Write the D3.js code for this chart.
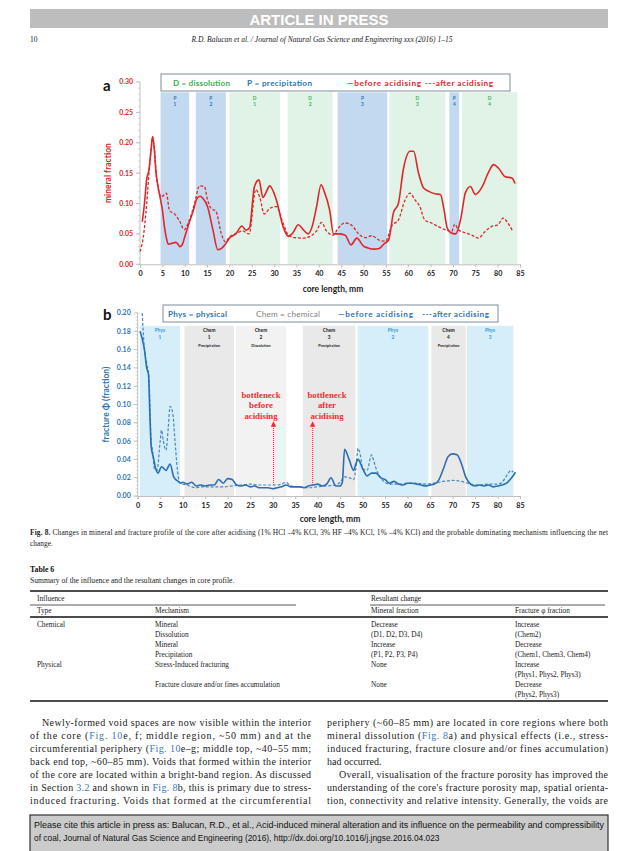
<!DOCTYPE html>
<html><head><meta charset="utf-8">
<script src="https://cdn.jsdelivr.net/npm/d3@7"></script>
<style>body{margin:0;background:#fff;}svg{display:block;}</style>
</head><body>
<svg id="page" width="638" height="851"></svg>
<script>
// ---------- DATA ----------
const mmTicks = [0,5,10,15,20,25,30,35,40,45,50,55,60,65,70,75,80,85];
const aYTicks = [0,0.05,0.10,0.15,0.20,0.25,0.30];
const bYTicks = [0,0.02,0.04,0.06,0.08,0.10,0.12,0.14,0.16,0.18,0.20];

// Fig 8a mineral fraction
const aBeforeX = [0.5,1,1.5,2,2.5,2.8,3.2,3.6,4,4.5,5,5.5,6,6.3,7,8,8.5,8.9,9.5,10,11.2,12,12.7,13.5,14,15.1,16.3,17.4,18.5,19,20,21.4,22.8,23.7,24.5,25.6,26.6,27.5,28.3,29,30.5,32,33.2,34.2,35.4,36.5,37.6,38.5,39.5,40.5,41.2,42.4,43.3,44.4,45.9,47.2,48.5,50,51,52.3,53.5,54.5,55.6,56.7,57.8,58.9,60.4,61.2,62.3,63.4,64.6,66,67.2,68,68.7,69.5,70.6,71.7,72.8,73.9,75,76.5,78,79.1,80.2,81.7,83.2,83.9];
const aBeforeY = [0.07,0.10,0.14,0.155,0.19,0.21,0.19,0.15,0.13,0.11,0.09,0.06,0.04,0.033,0.034,0.036,0.033,0.029,0.033,0.045,0.073,0.09,0.108,0.112,0.109,0.095,0.057,0.024,0.028,0.032,0.043,0.05,0.063,0.056,0.06,0.128,0.139,0.11,0.12,0.129,0.106,0.062,0.046,0.052,0.065,0.057,0.05,0.062,0.095,0.131,0.12,0.09,0.05,0.05,0.048,0.032,0.043,0.03,0.027,0.025,0.026,0.033,0.04,0.085,0.10,0.156,0.186,0.186,0.15,0.126,0.12,0.116,0.115,0.09,0.06,0.052,0.05,0.073,0.118,0.128,0.115,0.127,0.152,0.164,0.158,0.144,0.142,0.133];

const aAfterX = [0,0.7,1.5,2,2.5,2.8,3.2,3.6,4.2,4.8,5.9,6.6,7.7,8.8,9.9,11.0,12.2,13.3,14.4,15.1,15.9,17.0,18.2,19.1,20,21.4,22.9,24.4,25.9,26.8,27.8,29,30.5,32,33.2,34.6,36.5,38,39.5,40.6,41.7,43.2,44.4,45.9,47.4,48.9,50.4,51.9,53.4,54.9,56.4,57.8,59.3,60.4,61.5,62.6,63.7,65.2,66.7,68.2,69.7,70.4,71.2,72.7,74.2,75.7,77.2,78.6,80.1,81.2,82.3,83.4];
const aAfterY = [0.021,0.043,0.10,0.15,0.19,0.21,0.19,0.15,0.12,0.111,0.117,0.088,0.083,0.072,0.057,0.072,0.10,0.129,0.128,0.106,0.092,0.087,0.05,0.037,0.045,0.05,0.055,0.05,0.123,0.11,0.083,0.092,0.095,0.068,0.048,0.044,0.043,0.046,0.055,0.069,0.055,0.048,0.06,0.068,0.064,0.05,0.044,0.047,0.04,0.038,0.064,0.073,0.106,0.117,0.106,0.095,0.073,0.068,0.062,0.057,0.054,0.066,0.057,0.052,0.048,0.043,0.054,0.062,0.065,0.076,0.068,0.054];

const aBandType  = ["P","P","D","D","P","D","P","D"];
const aBandNum   = ["1","2","1","2","3","3","4","4"];
const aBandStart = [4.6,12.5,20.0,33.0,44.2,55.8,69.2,72.0];
const aBandEnd   = [11.0,19.2,31.3,43.1,55.3,68.3,71.4,84.4];

// Fig 8b fracture fraction
const bBeforeX = [0.5,1,1.5,2,2.4,2.7,3,3.5,4,4.5,5.3,6.3,7.2,8,9,9.6,10,11,12,13,14,15,16,17,18,19,20,21,22,23,24,25,26,27,28,29,30,31,32,33,34,35,36,37,38,39,40,41,42,43,44,45,45.5,46,47,48,48.5,49,50,51,52,53,54,55,56,57,58,59,60,61,62,63,64,65,66,67,68,69,70,71,72,73,74,75,76,77,78,79,80,81,82,83,84];
const bBeforeY = [0.18,0.172,0.16,0.14,0.133,0.09,0.054,0.042,0.03,0.025,0.032,0.028,0.035,0.021,0.016,0.014,0.015,0.013,0.015,0.011,0.012,0.011,0.012,0.012,0.018,0.014,0.019,0.018,0.012,0.011,0.012,0.010,0.011,0.009,0.009,0.009,0.008,0.009,0.010,0.012,0.010,0.010,0.010,0.009,0.011,0.012,0.013,0.011,0.013,0.020,0.011,0.011,0.015,0.051,0.040,0.028,0.035,0.040,0.030,0.022,0.025,0.025,0.020,0.018,0.014,0.016,0.013,0.012,0.014,0.014,0.013,0.012,0.011,0.012,0.013,0.018,0.030,0.043,0.046,0.045,0.035,0.020,0.013,0.011,0.012,0.011,0.012,0.010,0.011,0.012,0.014,0.019,0.026];

const bAfterX = [1.0,1.5,2,2.5,3,3.3,3.7,4.3,5,5.3,5.7,6.3,6.8,7.2,7.8,8.3,8.8,9.3,10,11,12,13,14,15,17,19,21,23,25,27,29,31,32,33,34,36,38,40,42,44,45,46,47,48,48.5,49,49.5,50,51,52,52.5,53,54,56,58,60,62,64,66,68,70,72,74,76,78,80,81,82,83,83.5];
const bAfterY = [0.20,0.16,0.145,0.13,0.06,0.05,0.03,0.028,0.06,0.072,0.06,0.05,0.075,0.098,0.09,0.06,0.03,0.015,0.013,0.012,0.010,0.009,0.010,0.010,0.010,0.010,0.011,0.012,0.013,0.012,0.012,0.012,0.013,0.015,0.011,0.010,0.009,0.010,0.011,0.012,0.015,0.021,0.020,0.018,0.030,0.052,0.045,0.030,0.028,0.045,0.038,0.030,0.020,0.013,0.013,0.014,0.014,0.013,0.014,0.016,0.017,0.016,0.013,0.012,0.013,0.013,0.015,0.022,0.028,0.026];

const bBandType  = ["Phys","Chem","Chem","Chem","Phys","Chem","Phys"];
const bBandNum   = ["1","1","2","3","2","4","3"];
const bBandSub   = ["","Precipitation","Dissolution","Precipitation","","Precipitation",""];
const bBandStart = [0.5,10.4,21.8,36.7,48.9,65.3,73.2];
const bBandEnd   = [9.4,21.4,33.0,48.4,64.6,72.9,83.5];
const bArrowMM   = [30.2,38.9];
const bArrowText = [["bottleneck","before","acidising"],["bottleneck","after","acidising"]];

// ---------- DRAW ----------
const svg = d3.select("#page");
const SANS = "Lato, 'Open Sans', sans-serif";
const SERIF = "'Liberation Serif', 'DejaVu Serif', serif";
const RED = "#e0262a", BLUE = "#2e75b6";
const L = 30, R = 608;

// header
svg.append("rect").attr("x",L).attr("y",9).attr("width",R-L).attr("height",19).attr("fill","#bdbdbd");
svg.append("text").attr("x",319).attr("y",24.5).attr("text-anchor","middle").attr("fill","#fff")
  .attr("font-family","'Liberation Sans', Arial, sans-serif").attr("font-weight","bold").attr("font-size",15).text("ARTICLE IN PRESS");
svg.append("text").attr("x",L).attr("y",42).attr("font-family",SERIF).attr("font-size",7.5).attr("fill","#222").text("10");
svg.append("text").attr("x",322).attr("y",42).attr("text-anchor","middle").attr("font-family",SERIF).attr("font-style","italic").attr("font-size",7.5).attr("fill","#222")
  .text("R.D. Balucan et al. / Journal of Natural Gas Science and Engineering xxx (2016) 1–15");

function axes(g, x, y, yTicks, yMinorStep, yColor, fmt, axisY) {
  const x0 = x.range()[0];
  g.append("line").attr("x1",x0).attr("x2",x0).attr("y1",y.range()[1]).attr("y2",y.range()[0]).attr("stroke","#bfbfbf");
  const minor = d3.range(0, yTicks[yTicks.length-1]+1e-9, yMinorStep);
  g.selectAll(null).data(minor).join("line").attr("x1",x0-2).attr("x2",x0).attr("y1",d=>y(d)).attr("y2",d=>y(d)).attr("stroke","#bfbfbf").attr("stroke-width",0.6);
  g.selectAll(null).data(yTicks).join("line").attr("x1",x0-4).attr("x2",x0).attr("y1",d=>y(d)).attr("y2",d=>y(d)).attr("stroke","#bfbfbf");
  g.selectAll(null).data(yTicks).join("text").attr("x",x0-7).attr("y",d=>y(d)+2.4).attr("text-anchor","end")
    .attr("font-family",SANS).attr("font-weight","bold").attr("font-size",7).attr("fill",yColor).text(d=>d3.format(fmt)(d));
  const xa = d3.axisBottom(x).tickValues(mmTicks).tickSize(3).tickPadding(4);
  const gx = g.append("g").attr("transform",`translate(0,${axisY})`).call(xa);
  gx.select(".domain").attr("stroke","#bfbfbf");
  gx.selectAll(".tick line").attr("stroke","#bfbfbf");
  gx.selectAll(".tick text").attr("font-family",SANS).attr("font-weight","bold").attr("font-size",7.2).attr("fill","#222");
}
function legendText(g, xx, yy, txt, col, w, len){
  const t = g.append("text").attr("x",xx).attr("y",yy).attr("font-family",SANS).attr("font-weight",w).attr("font-size",8.2).attr("fill",col).text(txt);
  if(len) t.attr("textLength",len).attr("lengthAdjust","spacing");
}

// ===== chart a =====
{
  const x = d3.scaleLinear().domain([0,85]).range([140,520]);
  const y = d3.scaleLinear().domain([0,0.30]).range([264.3,82]);
  const g = svg.append("g");
  const bandTop = y(0.283);
  aBandType.forEach((t,i)=>{
    g.append("rect").attr("x",x(aBandStart[i])).attr("y",bandTop).attr("width",x(aBandEnd[i])-x(aBandStart[i])).attr("height",y(0)-bandTop)
      .attr("fill", t==="P" ? "#c3d9ef" : "#e0f3e6");
    const c = t==="P" ? BLUE : "#3cae55";
    const cx = (x(aBandStart[i])+x(aBandEnd[i]))/2;
    g.append("text").attr("x",cx).attr("y",bandTop+8).attr("text-anchor","middle").attr("font-family",SANS).attr("font-weight","bold").attr("font-size",4.8).attr("fill",c).text(t);
    g.append("text").attr("x",cx).attr("y",bandTop+14).attr("text-anchor","middle").attr("font-family",SANS).attr("font-weight","bold").attr("font-size",4.8).attr("fill",c).text(aBandNum[i]);
  });
  axes(g, x, y, aYTicks, 0.01, RED, ".2f", 264.3);
  const line = d3.line().x(d=>x(d[0])).y(d=>y(d[1])).curve(d3.curveMonotoneX);
  g.append("path").attr("d", line(d3.zip(aAfterX,aAfterY))).attr("fill","none").attr("stroke",RED).attr("stroke-width",1.3).attr("stroke-dasharray","3,1.8");
  g.append("path").attr("d", line(d3.zip(aBeforeX,aBeforeY))).attr("fill","none").attr("stroke",RED).attr("stroke-width",1.6);
  g.append("rect").attr("x",161).attr("y",74).attr("width",349).attr("height",17).attr("fill","#fff").attr("stroke","#7f8c9a").attr("stroke-width",1);
  legendText(g,173,85.5,"D = dissolution","#3cae55","bold",57);
  legendText(g,247,85.5,"P = precipitation",BLUE,"bold",65);
  legendText(g,347,85.5,"—before acidising",RED,"bold",74);
  legendText(g,425,85.5,"---after acidising",RED,"bold",68);
  g.append("text").attr("x",103).attr("y",91).attr("font-family",SANS).attr("font-weight","bold").attr("font-size",15).attr("fill","#111").text("a");
  g.append("text").attr("transform",`translate(111,${y(0.15)}) rotate(-90)`).attr("text-anchor","middle").attr("font-family",SANS).attr("font-weight","bold").attr("font-size",8.5).attr("fill",RED).text("mineral fraction");
  g.append("text").attr("x",333).attr("y",292).attr("text-anchor","middle").attr("font-family",SANS).attr("font-weight","bold").attr("font-size",8.5).attr("fill","#222").text("core length, mm");
}

// ===== chart b =====
{
  const x = d3.scaleLinear().domain([0,85]).range([137.7,520]);
  const y = d3.scaleLinear().domain([0,0.20]).range([496,313]);
  const g = svg.append("g");
  const bandTop = y(0.186);
  bBandType.forEach((t,i)=>{
    const fill = t==="Phys" ? "#d5eef9" : (bBandSub[i]==="Dissolution" ? "#f2f2f2" : "#e9e9e9");
    g.append("rect").attr("x",x(bBandStart[i])).attr("y",bandTop).attr("width",x(bBandEnd[i])-x(bBandStart[i])).attr("height",y(0)-bandTop).attr("fill",fill);
    const c = t==="Phys" ? "#3a9ad9" : "#222";
    const cx = (x(bBandStart[i])+x(bBandEnd[i]))/2;
    [t,bBandNum[i],bBandSub[i]].forEach((s,k)=>{
      if(!s) return;
      g.append("text").attr("x",cx).attr("y",bandTop+6+k*7.5).attr("text-anchor","middle").attr("font-family",SANS).attr("font-weight","bold").attr("font-size",k===2?3.8:4.8).attr("fill",c).text(s);
    });
  });
  axes(g, x, y, bYTicks, 0.004, BLUE, ".2f", 496);
  const defs = svg.append("defs");
  defs.append("marker").attr("id","ah").attr("viewBox","0 0 10 10").attr("refX",5).attr("refY",5).attr("markerWidth",5).attr("markerHeight",5).attr("orient","auto")
    .append("path").attr("d","M0,0 L10,5 L0,10 z").attr("fill","#e8312f");
  bArrowMM.forEach((m,i)=>{
    g.append("line").attr("x1",x(m)).attr("x2",x(m)).attr("y1",y(0.012)).attr("y2",424).attr("stroke","#e8312f").attr("stroke-width",1.1).attr("stroke-dasharray","1,1").attr("marker-end","url(#ah)");
    const cx = i===0 ? 261 : 327;
    bArrowText[i].forEach((s,k)=>{
      g.append("text").attr("x",cx).attr("y",398+k*10.3).attr("text-anchor","middle").attr("font-family",SERIF).attr("font-weight","bold").attr("font-size",8.8).attr("fill","#e8312f").text(s);
    });
  });
  const line = d3.line().x(d=>x(d[0])).y(d=>y(d[1])).curve(d3.curveMonotoneX);
  g.append("path").attr("d", line(d3.zip(bAfterX,bAfterY))).attr("fill","none").attr("stroke","#4a86c0").attr("stroke-width",1.2).attr("stroke-dasharray","3,1.8");
  g.append("path").attr("d", line(d3.zip(bBeforeX,bBeforeY))).attr("fill","none").attr("stroke","#2a6fb0").attr("stroke-width",1.6);
  g.append("rect").attr("x",163).attr("y",305).attr("width",335).attr("height",17).attr("fill","#fff").attr("stroke","#7f8c9a").attr("stroke-width",1);
  legendText(g,168,316.5,"Phys = physical",BLUE,"bold",59);
  legendText(g,256,316.5,"Chem = chemical","#808080","normal",64);
  legendText(g,338,316.5,"—before acidising",BLUE,"bold",75);
  legendText(g,422,316.5,"---after acidising",BLUE,"bold",67);
  g.append("text").attr("x",103).attr("y",320).attr("font-family",SANS).attr("font-weight","bold").attr("font-size",15).attr("fill","#111").text("b");
  g.append("text").attr("transform",`translate(109,${y(0.1)}) rotate(-90)`).attr("text-anchor","middle").attr("font-family",SANS).attr("font-weight","bold").attr("font-size",8.5).attr("fill",BLUE).text("fracture Φ (fraction)");
  g.append("text").attr("x",330).attr("y",522).attr("text-anchor","middle").attr("font-family",SANS).attr("font-weight","bold").attr("font-size",8.5).attr("fill","#222").text("core length, mm");
}

// ---------- caption ----------
const cap = svg.append("text").attr("x",L).attr("y",535).attr("font-family",SERIF).attr("font-size",7.4).attr("fill","#222").attr("textLength",R-L).attr("lengthAdjust","spacing");
cap.append("tspan").attr("font-weight","bold").text("Fig. 8. ");
cap.append("tspan").text("Changes in mineral and fracture profile of the core after acidising (1% HCl –4% KCl, 3% HF –4% KCl, 1% –4% KCl) and the probable dominating mechanism influencing the net");
svg.append("text").attr("x",L).attr("y",546).attr("font-family",SERIF).attr("font-size",7.4).attr("fill","#222").text("change.");

// ---------- table ----------
svg.append("text").attr("x",L).attr("y",572).attr("font-family",SERIF).attr("font-weight","bold").attr("font-size",7.8).attr("fill","#111").text("Table 6");
svg.append("text").attr("x",L).attr("y",583).attr("font-family",SERIF).attr("font-size",7.6).attr("fill","#222").text("Summary of the influence and the resultant changes in core profile.");
const rule = (x1,x2,yy,w)=>svg.append("line").attr("x1",x1).attr("x2",x2).attr("y1",yy).attr("y2",yy).attr("stroke","#111").attr("stroke-width",w);
rule(L,R,591,1.4); rule(L,296,605,0.7); rule(370,R-3,605,0.7); rule(L,R,617,1.4); rule(L,R,701,1.4);
const colX = [37,155,371,515];
const tt = (xx,yy,s)=>svg.append("text").attr("x",xx).attr("y",yy).attr("font-family",SERIF).attr("font-size",7.3).attr("fill","#222").text(s);
tt(colX[0],601,"Influence"); tt(colX[2],601,"Resultant change");
tt(colX[0],613,"Type"); tt(colX[1],613,"Mechanism"); tt(colX[2],613,"Mineral fraction"); tt(colX[3],613,"Fracture φ fraction");
const rows = [
  ["Chemical","Mineral","Decrease","Increase"],
  ["","Dissolution","(D1, D2, D3, D4)","(Chem2)"],
  ["","Mineral","Increase","Decrease"],
  ["","Precipitation","(P1, P2, P3, P4)","(Chem1, Chem3, Chem4)"],
  ["Physical","Stress-Induced fracturing","None","Increase"],
  ["","","","(Phys1, Phys2, Phys3)"],
  ["","Fracture closure and/or fines accumulation","None","Decrease"],
  ["","","","(Phys2, Phys3)"]];
rows.forEach((r,i)=>r.forEach((s,j)=>{ if(s) tt(colX[j],627+i*10,s); }));

// ---------- body text ----------
const LINK = "#3a78c0";
const leftLines = [
  [[ "Newly-formed void spaces are now visible within the interior",0]],
  [[ "of the core (",0],["Fig. 10",1],["e, f; middle region, ~50 mm) and at the",0]],
  [[ "circumferential periphery (",0],["Fig. 10",1],["e–g; middle top, ~40–55 mm;",0]],
  [[ "back end top, ~60–85 mm). Voids that formed within the interior",0]],
  [[ "of the core are located within a bright-band region. As discussed",0]],
  [[ "in Section ",0],["3.2",1],[" and shown in ",0],["Fig. 8",1],["b, this is primary due to stress-",0]],
  [[ "induced fracturing. Voids that formed at the circumferential",0]]];
const rightLines = [
  [[ "periphery (~60–85 mm) are located in core regions where both",0]],
  [[ "mineral dissolution (",0],["Fig. 8",1],["a) and physical effects (i.e., stress-",0]],
  [[ "induced fracturing, fracture closure and/or fines accumulation)",0]],
  [[ "had occurred.",0]],
  [[ "Overall, visualisation of the fracture porosity has improved the",0]],
  [[ "understanding of the core's fracture porosity map, spatial orienta-",0]],
  [[ "tion, connectivity and relative intensity. Generally, the voids are",0]]];
function col(lines, x0, x1, indents, ragged){
  lines.forEach((segs,i)=>{
    const xs = x0 + (indents.includes(i)?12:0);
    const t = svg.append("text").attr("x",xs).attr("y",726+i*13).attr("font-family",SERIF).attr("font-size",10).attr("fill","#222");
    if(!ragged.includes(i)) t.attr("textLength",x1-xs).attr("lengthAdjust","spacing");
    segs.forEach(s=>t.append("tspan").attr("fill",s[1]?LINK:"#222").text(s[0]));
  });
}
col(leftLines,L,311,[0],[]);
col(rightLines,327,R,[4],[3]);

// ---------- citation box ----------
svg.append("rect").attr("x",L).attr("y",815).attr("width",R-L).attr("height",40).attr("fill","#cbcbcb").attr("stroke","#333").attr("stroke-width",1.2);
svg.append("text").attr("x",L+4).attr("y",828).attr("font-family","'Liberation Sans',Arial,sans-serif").attr("font-size",8.4).attr("fill","#111").attr("textLength",R-L-8).attr("lengthAdjust","spacingAndGlyphs")
  .text("Please cite this article in press as: Balucan, R.D., et al., Acid-induced mineral alteration and its influence on the permeability and compressibility");
svg.append("text").attr("x",L+4).attr("y",841).attr("font-family","'Liberation Sans',Arial,sans-serif").attr("font-size",8.4).attr("fill","#111")
  .text("of coal, Journal of Natural Gas Science and Engineering (2016), http://dx.doi.org/10.1016/j.jngse.2016.04.023");
</script>
</body></html>
